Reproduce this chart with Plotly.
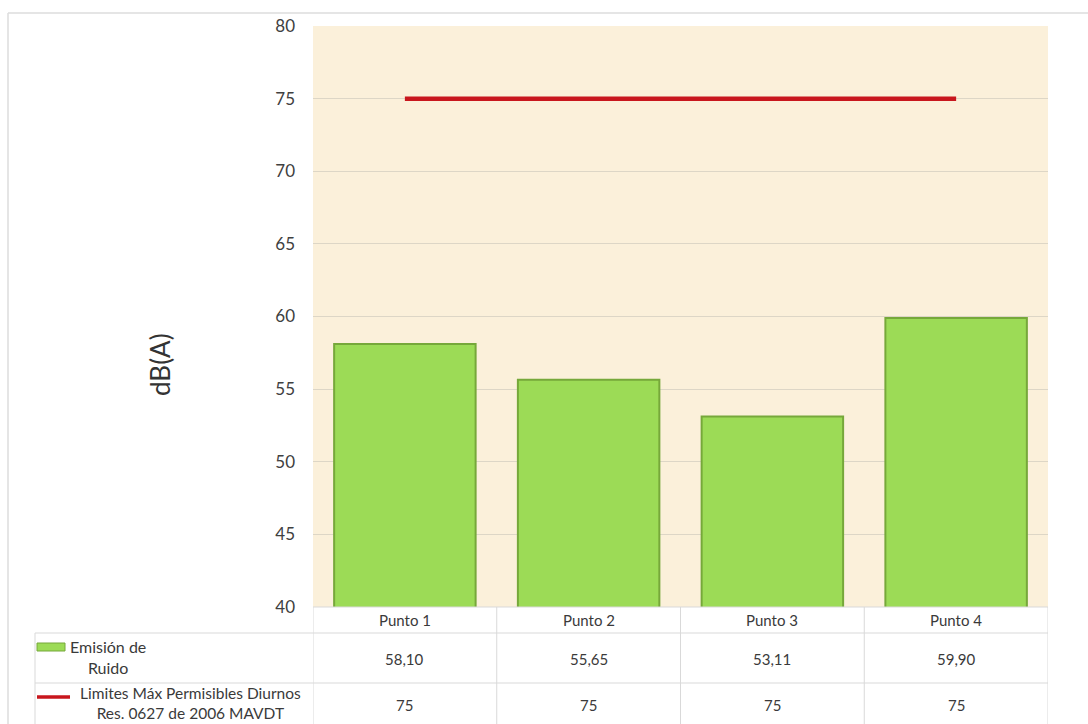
import plotly.graph_objects as go

# Noise measurement data
puntos = ["Punto 1", "Punto 2", "Punto 3", "Punto 4"]
emision_ruido = [58.10, 55.65, 53.11, 59.90]
limite_diurno = [75, 75, 75, 75]
y_ticks = [40, 45, 50, 55, 60, 65, 70, 75, 80]

serie_barras = "Emisión de<br>Ruido"
serie_limite = "Limites Máx Permisibles Diurnos<br>Res. 0627 de 2006 MAVDT"

W, H = 1088, 724
L, R, T, B = 313, 1048, 26, 607  # plot area in pixels


def px_x(x):
    return (x - L) / (R - L)


def px_y(y):
    return (B - y) / (B - T)


FONT = "Lato, 'Open Sans', sans-serif"
GRID = "#DDD6C6"
TABLE = "#D9D9D9"
TXT = "#3A3A3A"
GREEN = "#9CDB56"
GREEN_EDGE = "#76A83A"
RED = "#C8161D"

fig = go.Figure()

fig.add_trace(go.Bar(
    x=puntos, y=emision_ruido,
    marker=dict(color=GREEN, line=dict(color=GREEN_EDGE, width=2)),
    width=0.77, showlegend=False,
))

fig.add_trace(go.Scatter(
    x=puntos, y=limite_diurno, mode="lines",
    line=dict(color=RED, width=4.5), showlegend=False,
))

shapes = []
# outer chart frame
shapes.append(dict(type="line", xref="paper", yref="paper",
                   x0=px_x(8), x1=px_x(1088), y0=px_y(13), y1=px_y(13),
                   line=dict(color="#DCDCDC", width=1.5)))
shapes.append(dict(type="line", xref="paper", yref="paper",
                   x0=px_x(8), x1=px_x(8), y0=px_y(13), y1=px_y(724),
                   line=dict(color="#DCDCDC", width=1.5)))

# data table grid
for yy in (633, 683):
    shapes.append(dict(type="line", xref="paper", yref="paper",
                       x0=px_x(35), x1=1, y0=px_y(yy), y1=px_y(yy),
                       line=dict(color=TABLE, width=1)))
shapes.append(dict(type="line", xref="paper", yref="paper",
                   x0=0, x1=1, y0=0, y1=0, line=dict(color=TABLE, width=1)))
shapes.append(dict(type="line", xref="paper", yref="paper",
                   x0=px_x(35), x1=px_x(35), y0=px_y(633), y1=px_y(724),
                   line=dict(color=TABLE, width=1)))
for xb in (-0.5, 0.5, 1.5, 2.5, 3.5):
    shapes.append(dict(type="line", xref="x", yref="paper",
                       x0=xb, x1=xb, y0=0, y1=px_y(724),
                       line=dict(color=TABLE, width=1)))

# legend keys inside the table
shapes.append(dict(type="rect", xref="paper", yref="paper",
                   x0=px_x(37), x1=px_x(65), y0=px_y(651), y1=px_y(643),
                   fillcolor=GREEN, line=dict(color=GREEN_EDGE, width=1)))
shapes.append(dict(type="line", xref="paper", yref="paper",
                   x0=px_x(37), x1=px_x(70), y0=px_y(697), y1=px_y(697),
                   line=dict(color=RED, width=3.5)))


def note(x, y, text, size, xref="paper", **kw):
    return dict(x=x, xref=xref, y=y, yref="paper", text=text,
                showarrow=False, xanchor="center", yanchor="middle",
                font=dict(family=FONT, size=size, color=TXT), **kw)


annotations = []
for i, p in enumerate(puntos):
    annotations.append(note(p, px_y(620), p, 15, xref="x"))
    annotations.append(note(p, px_y(659),
                            f"{emision_ruido[i]:.2f}".replace(".", ","),
                            15, xref="x"))
    annotations.append(note(p, px_y(705), f"{limite_diurno[i]}", 15, xref="x"))

annotations.append(note(px_x(108), px_y(657), serie_barras, 16, align="center"))
annotations.append(note(px_x(190), px_y(703), serie_limite, 15.5, align="center"))

# y-axis title
annotations.append(dict(x=px_x(160), xref="paper", y=px_y(365), yref="paper",
                        text="dB(A)", showarrow=False, textangle=-90,
                        xanchor="center", yanchor="middle",
                        font=dict(family=FONT, size=26, color="#333333")))

fig.update_layout(
    width=W, height=H,
    margin=dict(l=L, r=W - R, t=T, b=H - B),
    paper_bgcolor="white",
    plot_bgcolor="#FBF0DA",
    shapes=shapes,
    annotations=annotations,
    xaxis=dict(range=[-0.5, 3.5], showticklabels=False, showgrid=False,
               zeroline=False, ticks="", fixedrange=True),
    yaxis=dict(range=[40, 80], tickvals=y_ticks, showgrid=True,
               gridcolor=GRID, gridwidth=1, zeroline=False, ticks="",
               ticklabelstandoff=17,
               tickfont=dict(family=FONT, size=17, color="#404040")),
)

fig.write_html("out.html")
